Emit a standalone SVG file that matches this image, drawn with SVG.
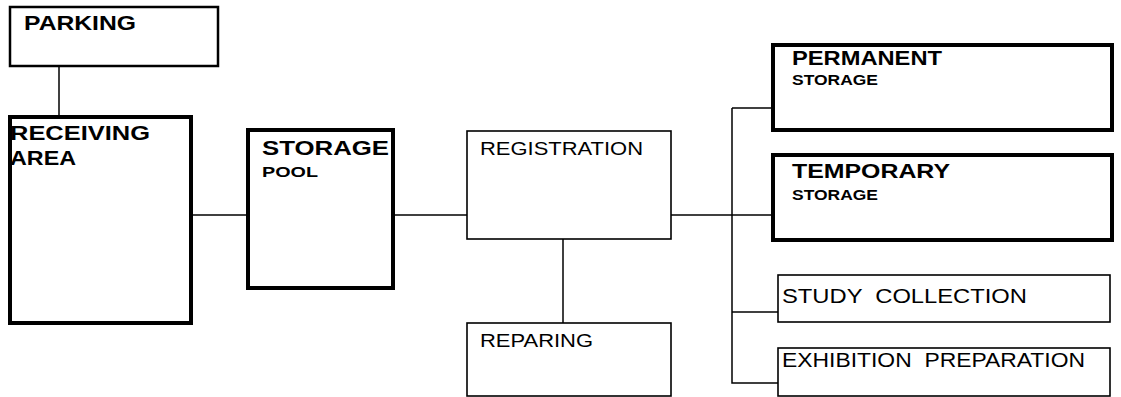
<svg xmlns="http://www.w3.org/2000/svg" width="1121" height="397" viewBox="0 0 1121 397">
<style>
.thick{fill:#fff;stroke:#000;stroke-width:4}
.mid{fill:#fff;stroke:#000;stroke-width:2.5}
.thin{fill:#fff;stroke:#000;stroke-width:1.6}
.big{font-family:"Liberation Sans",Arial,sans-serif;font-weight:700;font-size:21px;fill:#000}
.reg{font-family:"Liberation Sans",Arial,sans-serif;font-weight:400;font-size:19px;fill:#000}
.wide{font-family:"Liberation Sans",Arial,sans-serif;font-weight:400;font-size:20px;fill:#000}
.small{font-family:"Liberation Sans",Arial,sans-serif;font-weight:700;font-size:14px;fill:#000}
.line{fill:none;stroke:#000;stroke-width:1.5}
</style>
<rect width="1121" height="397" fill="#fff"/>
<g id="connectors">
<path class="line" d="M59 66V117"/>
<path class="line" d="M192 215H248"/>
<path class="line" d="M393 215H467"/>
<path class="line" d="M563 239V323"/>
<path class="line" d="M671 215H773"/>
<path class="line" d="M732 108V383H778"/>
<path class="line" d="M732 108H773"/>
<path class="line" d="M732 312H778"/>
</g>
<g id="parking">
<rect class="mid" x="10" y="7" width="208" height="59"/>
<text class="big" x="24" y="30" textLength="112" lengthAdjust="spacingAndGlyphs">PARKING</text>
</g>
<g id="receiving">
<rect class="thick" x="10" y="117" width="181" height="206"/>
<text class="big" x="10" y="140" textLength="140" lengthAdjust="spacingAndGlyphs">RECEIVING</text>
<text class="big" x="10" y="165" textLength="66" lengthAdjust="spacingAndGlyphs">AREA</text>
</g>
<g id="storage-pool">
<rect class="thick" x="248" y="130" width="145" height="158"/>
<text class="big" x="262" y="155" textLength="127" lengthAdjust="spacingAndGlyphs">STORAGE</text>
<text class="small" x="262" y="177" textLength="56" lengthAdjust="spacingAndGlyphs">POOL</text>
</g>
<g id="registration">
<rect class="thin" x="467" y="131" width="204" height="108"/>
<text class="reg" x="480" y="155" textLength="163" lengthAdjust="spacingAndGlyphs">REGISTRATION</text>
</g>
<g id="reparing">
<rect class="thin" x="467" y="323" width="204" height="73"/>
<text class="reg" x="480" y="347" textLength="113" lengthAdjust="spacingAndGlyphs">REPARING</text>
</g>
<g id="permanent">
<rect class="thick" x="773" y="45" width="339" height="85"/>
<text class="big" x="792" y="65" textLength="150" lengthAdjust="spacingAndGlyphs">PERMANENT</text>
<text class="small" x="792" y="85" textLength="86" lengthAdjust="spacingAndGlyphs">STORAGE</text>
</g>
<g id="temporary">
<rect class="thick" x="773" y="155" width="339" height="85"/>
<text class="big" x="792" y="178" textLength="158" lengthAdjust="spacingAndGlyphs">TEMPORARY</text>
<text class="small" x="792" y="200" textLength="86" lengthAdjust="spacingAndGlyphs">STORAGE</text>
</g>
<g id="study">
<rect class="thin" x="778" y="275" width="332" height="47"/>
<text class="wide" x="782" y="303" textLength="245" lengthAdjust="spacingAndGlyphs" xml:space="preserve">STUDY  COLLECTION</text>
</g>
<g id="exhibition">
<rect class="thin" x="778" y="348" width="332" height="48"/>
<text class="wide" x="782" y="367" textLength="303" lengthAdjust="spacingAndGlyphs" xml:space="preserve">EXHIBITION  PREPARATION</text>
</g>
</svg>
